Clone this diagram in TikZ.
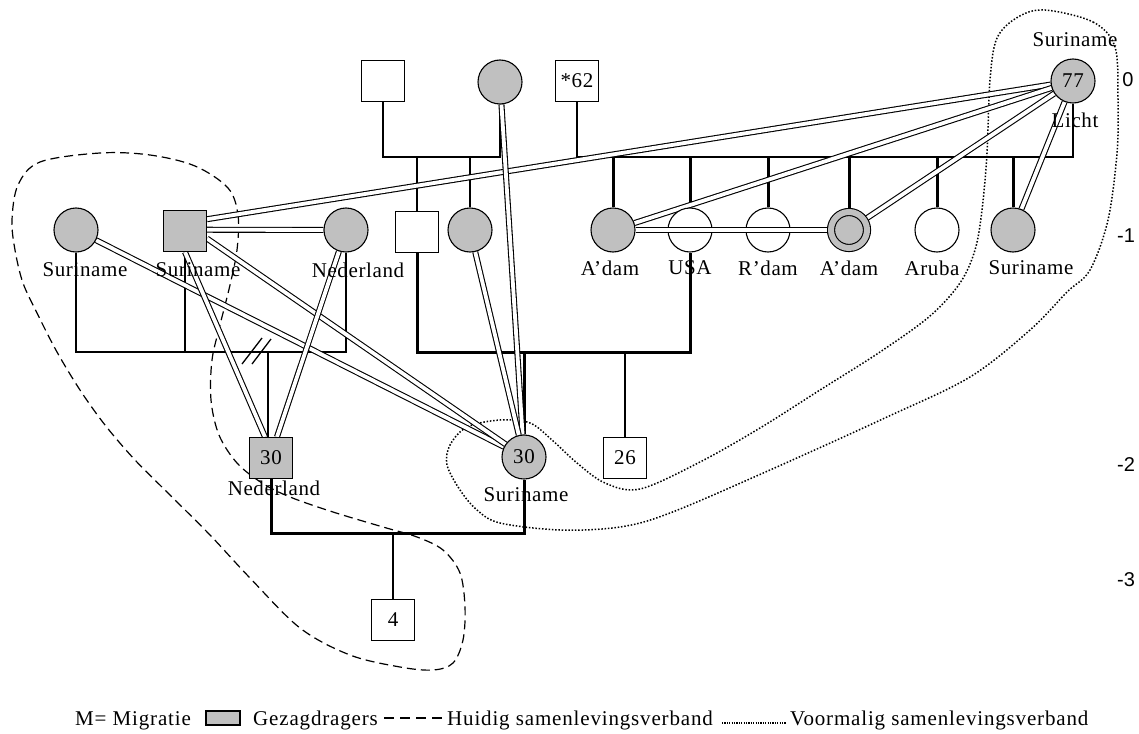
\documentclass[tikz,border=0pt]{standalone}
\usepackage{fontspec}
\setmainfont{Liberation Serif}[LetterSpace=3]
\newfontfamily\axisfont{Liberation Sans}
\newfontfamily\legfont{Liberation Serif}[LetterSpace=4]
\newcommand\labfont{\fontsize{21}{24}\selectfont}
\usetikzlibrary{calc}
\pgfdeclarelayer{contour}
\pgfdeclarelayer{lines}
\pgfsetlayers{contour,lines,main}
\definecolor{gz}{HTML}{C0C0C0}
\begin{document}
\begin{tikzpicture}[x=1pt,y=-1pt,
  every node/.style={font=\labfont, inner sep=0pt},
  male/.style={draw, line width=1.1pt, fill=white, minimum width=43pt, minimum height=41pt},
  female/.style={draw, circle, line width=1.1pt, fill=white, minimum size=44pt},
  gez/.style={fill=gz},
  lab/.style={font=\labfont, inner sep=0pt},
  axl/.style={font=\axisfont\fontsize{20}{24}\selectfont},
  legl/.style={font=\legfont\fontsize{21}{24}\selectfont, anchor=base west},
  thinline/.style={line width=1.3pt},
  thickline/.style={line width=3pt},
  rel/.style={double, double distance=3.8pt, line width=1.1pt},
  huidig/.style={line width=1.2pt, dash pattern=on 9pt off 5pt},
  voorm/.style={line width=1.5pt, dash pattern=on 1.5pt off 1.8pt},
]
\useasboundingbox (0,0) rectangle (1139,733);
\begin{pgfonlayer}{contour}
  \fill[white] (0,0) rectangle (1139,733);
\end{pgfonlayer}

% generation 0
\node[male] (g0sq) at (383,81) {};
\node[female, gez] (g0ci) at (500,82) {};
\node[male] (s62) at (577,81) {*62};
\node[female, gez] (c77) at (1073,81) {77};
\node[lab] (c77top) at (1075,40) {Suriname};
\node[lab] (c77bot) at (1075,120) {Licht};

% generation -1
\node[female, gez] (lci) at (76,230) {};
\node[male, gez] (lsq) at (185,231) {};
\node[female, gez] (ned) at (346,230) {};
\node[male] (msq) at (417,232) {};
\node[female, gez] (mci) at (470,230) {};
\node[female, gez] (ad1) at (613,230) {};
\node[female] (usa) at (690,230) {};
\node[female] (rdam) at (768,230) {};
\node[circle, draw, line width=1.1pt, double=gz, double distance=6pt, fill=gz, minimum size=36pt] (ad2) at (849,230) {};
\node[female] (aru) at (937,230) {};
\node[female, gez] (sur) at (1013,230) {};

\node[lab] (l1) at (85,270) {Suriname};
\node[lab] (l2) at (198,270) {Suriname};
\node[lab] (l3) at (358,270) {Nederland};
\node[lab] (l4) at (610,268) {A’dam};
\node[lab] (l5) at (690,268) {USA};
\node[lab] (l6) at (768,268) {R’dam};
\node[lab] (l7) at (849,268) {A’dam};
\node[lab] (l8) at (932,268) {Aruba};
\node[lab] (l9) at (1031,268) {Suriname};

% generation -2 / -3
\node[male, gez] (sq30) at (271,458) {30};
\node[lab] (l10) at (274,488) {Nederland};
\node[female, gez] (ci30) at (524,457) {30};
\node[lab] (l11) at (526,495) {Suriname};
\node[male] (sq26) at (625,458) {26};
\node[male] (sq4) at (393,620) {4};

% axis
\node[axl] (a0) at (1128,80) {0};
\node[axl] (a1) at (1126,236) {-1};
\node[axl] (a2) at (1126,465) {-2};
\node[axl] (a3) at (1126,580) {-3};

% bars
\coordinate (bar0) at (440,157);
\coordinate (bar77) at (800,157);
\coordinate (barL) at (200,352);
\coordinate (barM) at (550,352);
\coordinate (bar2) at (394,533);

\begin{pgfonlayer}{lines}
  \draw[thinline] (g0sq.south) |- (bar0) -| (g0ci.south);
  \draw[thinline] (msq.north) -- (msq.north |- bar0);
  \draw[thinline] (mci.north) -- (mci.north |- bar0);
  \draw[thinline] (s62.south) |- (bar77) -| (c77.south);
  \foreach \n in {ad1,usa,rdam,ad2,aru,sur}
    \draw[thickline] (\n.north) -- (\n.north |- bar77);
  \draw[thinline] (lci.south) |- (barL) -| (ned.south);
  \draw[thinline] (lsq.south) -- (lsq.south |- barL);
  \coordinate (c30top) at ($(sq30.north)+(-3,0)$);
  \draw[thinline] (c30top |- barL) -- (c30top);
  \draw[thinline] (242,364) -- (262,338);
  \draw[thinline] (252,364) -- (271,339);
  \draw[thickline] (msq.south) |- (barM) -| (usa.south);
  \draw[thickline] (ci30.north) -- (ci30.north |- barM);
  \draw[thinline] (sq26.north) -- (sq26.north |- barM);
  \draw[thickline] (sq30.south) |- (bar2) -| (ci30.south);
  \draw[thinline] (sq4.north) -- (sq4.north |- bar2);

  % relationship lines
  \draw[rel] (c77) -- ($(lsq.north east)!0.22!(lsq.south east)$);
  \draw[rel] (c77) -- (ad1);
  \draw[rel] (c77) -- (ad2);
  \draw[rel] (c77) -- (sur);
  \draw[rel] ($(lsq.north east)!0.47!(lsq.south east)$) -- (ned);
  \draw[rel] (lci) -- (ci30);
  \draw[rel] ($(lsq.north east)!0.68!(lsq.south east)$) -- (ci30);
  \draw[rel] (lsq.south) -- ($(sq30.north)+(-6,0)$);
  \draw[rel] (ned) -- ($(sq30.north)+(6,0)$);
  \draw[rel] (g0ci) -- (ci30);
  \draw[rel] (mci) -- (ci30);
\end{pgfonlayer}
\draw[rel] (ad1) -- ($(ad2.west)+(-3,0)$);

\begin{pgfonlayer}{contour}
  \draw[huidig] plot[smooth cycle, tension=0.55] coordinates {
    (228,188) (238,215) (237,250) (230,285) (220,325) (212,360) (211,400)
    (219,435) (237,463) (262,483) (290,497) (333,512) (383,527) (417,537)
    (443,550) (460,573) (465,607) (463,640) (453,663) (433,670) (400,667)
    (350,655) (300,628) (250,578) (210,535) (170,495) (135,460) (105,425)
    (80,390) (57,352) (38,315) (23,283) (15,250) (12,220) (18,185) (40,162)
    (100,153) (150,155) (195,166)};
  \draw[voorm] plot[smooth cycle, tension=0.55] coordinates {
    (1045,10) (1093,22) (1115,47) (1118,100) (1117,153) (1108,220) (1090,270)
    (1067,292) (1030,330) (970,377) (887,417) (770,470) (670,513) (620,527)
    (560,530) (500,523) (477,510) (460,490) (447,465) (450,445) (467,427)
    (500,420) (530,423) (552,440) (577,463) (605,483) (640,489) (700,462)
    (760,428) (820,390) (880,352) (930,316) (960,283) (975,250) (982,210)
    (987,153) (990,80) (997,38) (1018,17)};
\end{pgfonlayer}

% legend
\node[legl] (lg1) at (75,725) {M= Migratie};
\node[draw, line width=1.1pt, fill=gz, minimum width=34pt, minimum height=14pt] (lgbox) at (223,718) {};
\node[legl] (lg2) at (253,725) {Gezagdragers};
\coordinate (ld1) at (384,718);
\coordinate (ld2) at (442,718);
\draw[line width=1.3pt, dash pattern=on 10pt off 6pt] (ld1) -- (ld2);
\node[legl] (lg3) at (447,725) {Huidig samenlevingsverband};
\coordinate (lv1) at (722,723);
\coordinate (lv2) at (786,723);
\draw[line width=1.2pt, dash pattern=on 1.2pt off 1.2pt] (lv1) -- (lv2);
\node[legl] (lg4) at (790,725) {Voormalig samenlevingsverband};
\end{tikzpicture}
\end{document}
